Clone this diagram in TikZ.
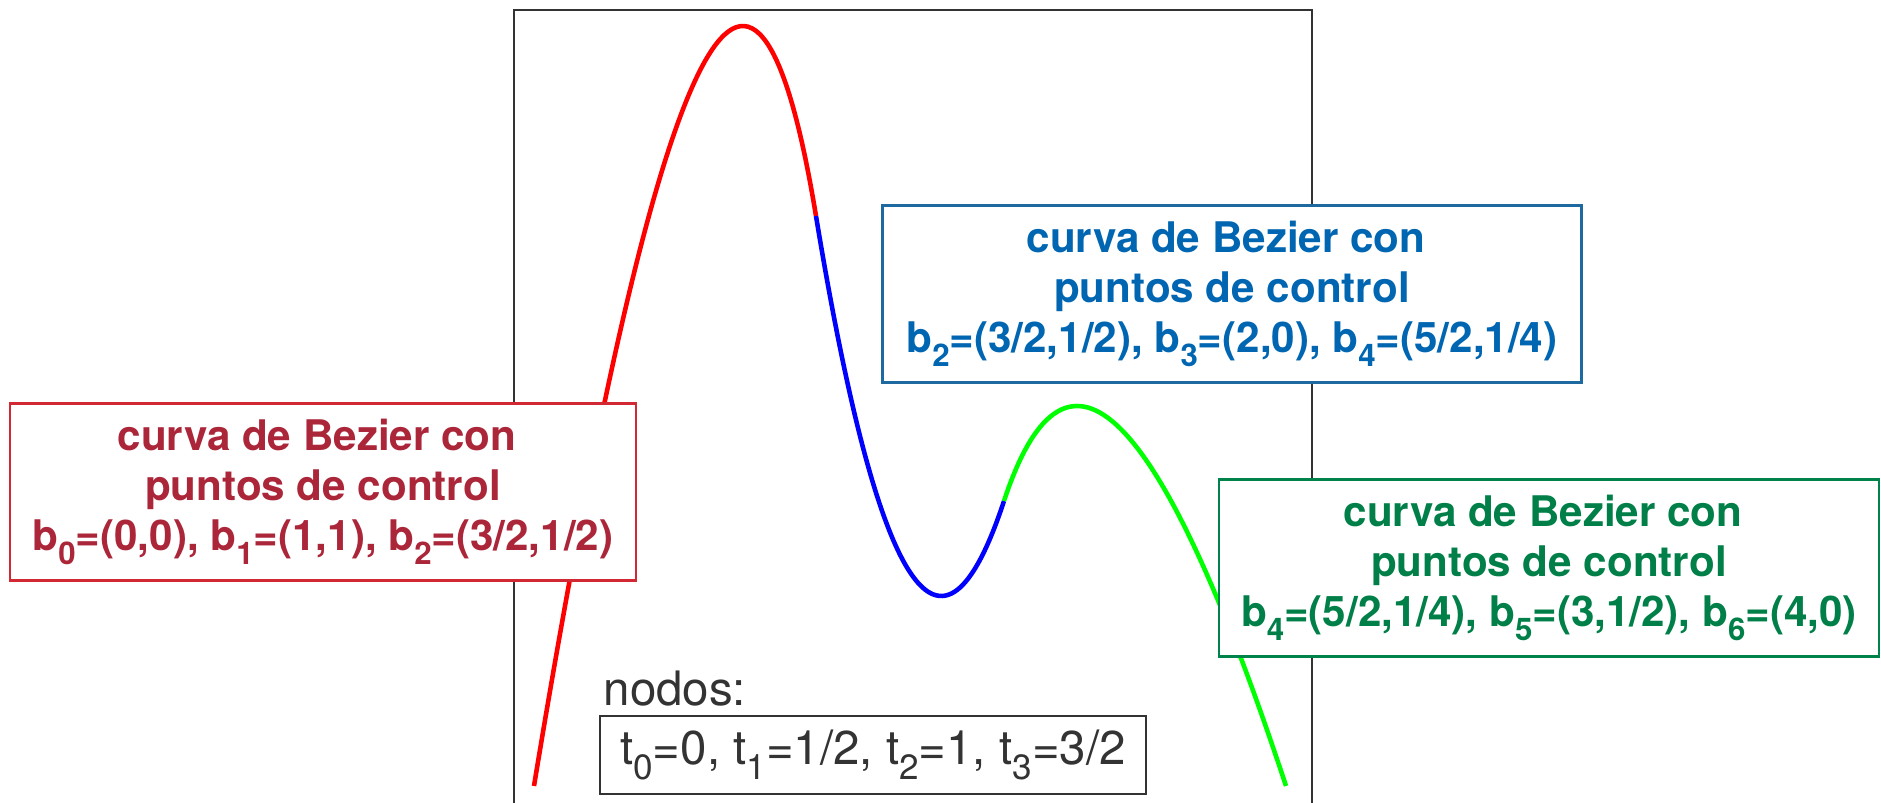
\documentclass[tikz,border=0pt]{standalone}
\usepackage{fontspec}
\setmainfont{TeX Gyre Heros}
\usetikzlibrary{positioning,calc}
\definecolor{bzred}{RGB}{172,38,58}
\definecolor{bzredline}{RGB}{210,40,52}
\definecolor{bzblue}{RGB}{0,102,178}
\definecolor{bzblueline}{RGB}{30,105,160}
\definecolor{bzgreen}{RGB}{0,128,72}
\definecolor{bzgreenline}{RGB}{0,130,75}
\definecolor{bzgray}{RGB}{51,51,51}
\newcommand{\lowidx}[1]{\raisebox{-0.33em}{\scalebox{0.74}{#1}}}

\begin{document}
\begin{tikzpicture}[
  ctrlbox/.style={draw, fill=white, line width=0.6pt, align=center, inner xsep=0.2cm, minimum height=1.77cm, font=\fontsize{12}{14.2}\selectfont\bfseries},
  seg/.style={line width=1.3pt},
  plainbox/.style={text=bzgray, font=\fontsize{13.5}{16}\selectfont},
]
\useasboundingbox (-5.34,-0.16) rectangle (13.47,7.86);
\draw[bzgray, line width=0.6pt] (-0.2,-0.5) -- (-0.2,7.76) -- (7.78,7.76) -- (7.78,-0.5);

\begin{scope}[x=1.88cm, y=11.4cm]
\coordinate (b0) at (0,0);
\coordinate (b1) at (1,1);
\coordinate (b2) at (1.5,0.5);
\coordinate (b3) at (2,0);
\coordinate (b4) at (2.5,0.25);
\coordinate (b5) at (3,0.5);
\coordinate (b6) at (4,0);
\end{scope}
\draw[seg, red] (b0) .. controls ($(b0)!2/3!(b1)$) and ($(b2)!2/3!(b1)$) .. (b2);
\draw[seg, blue] (b2) .. controls ($(b2)!2/3!(b3)$) and ($(b4)!2/3!(b3)$) .. (b4);
\draw[seg, green] (b4) .. controls ($(b4)!2/3!(b5)$) and ($(b6)!2/3!(b5)$) .. (b6);

\node[ctrlbox, draw=bzredline, text=bzred, minimum width=6.26cm] (cred) at (-2.11,2.94) {curva de Bezier con\hspace*{.28em}\\ puntos de control\\ b\lowidx{0}=(0,0), b\lowidx{1}=(1,1), b\lowidx{2}=(3/2,1/2)};
\node[ctrlbox, draw=bzblueline, text=bzblue, minimum width=6.99cm] (cblue) at (6.98,4.92) {curva de Bezier con\hspace*{.28em}\\ puntos de control\\ b\lowidx{2}=(3/2,1/2), b\lowidx{3}=(2,0), b\lowidx{4}=(5/2,1/4)};
\node[ctrlbox, draw=bzgreenline, text=bzgreen, minimum width=6.60cm] (cgreen) at (10.15,2.18) {curva de Bezier con\hspace*{.28em}\\ puntos de control\\ b\lowidx{4}=(5/2,1/4), b\lowidx{5}=(3,1/2), b\lowidx{6}=(4,0)};

\node[plainbox, draw=bzgray, line width=0.6pt, minimum width=5.46cm, minimum height=0.78cm] (tlist) at (3.39,0.31) {t\lowidx{0}=0, t\lowidx{1}=1/2, t\lowidx{2}=1, t\lowidx{3}=3/2};
\node[plainbox, inner sep=0pt, above right=0.08cm and 0.04cm of tlist.north west] (nodos) {nodos:};
\end{tikzpicture}
\end{document}
